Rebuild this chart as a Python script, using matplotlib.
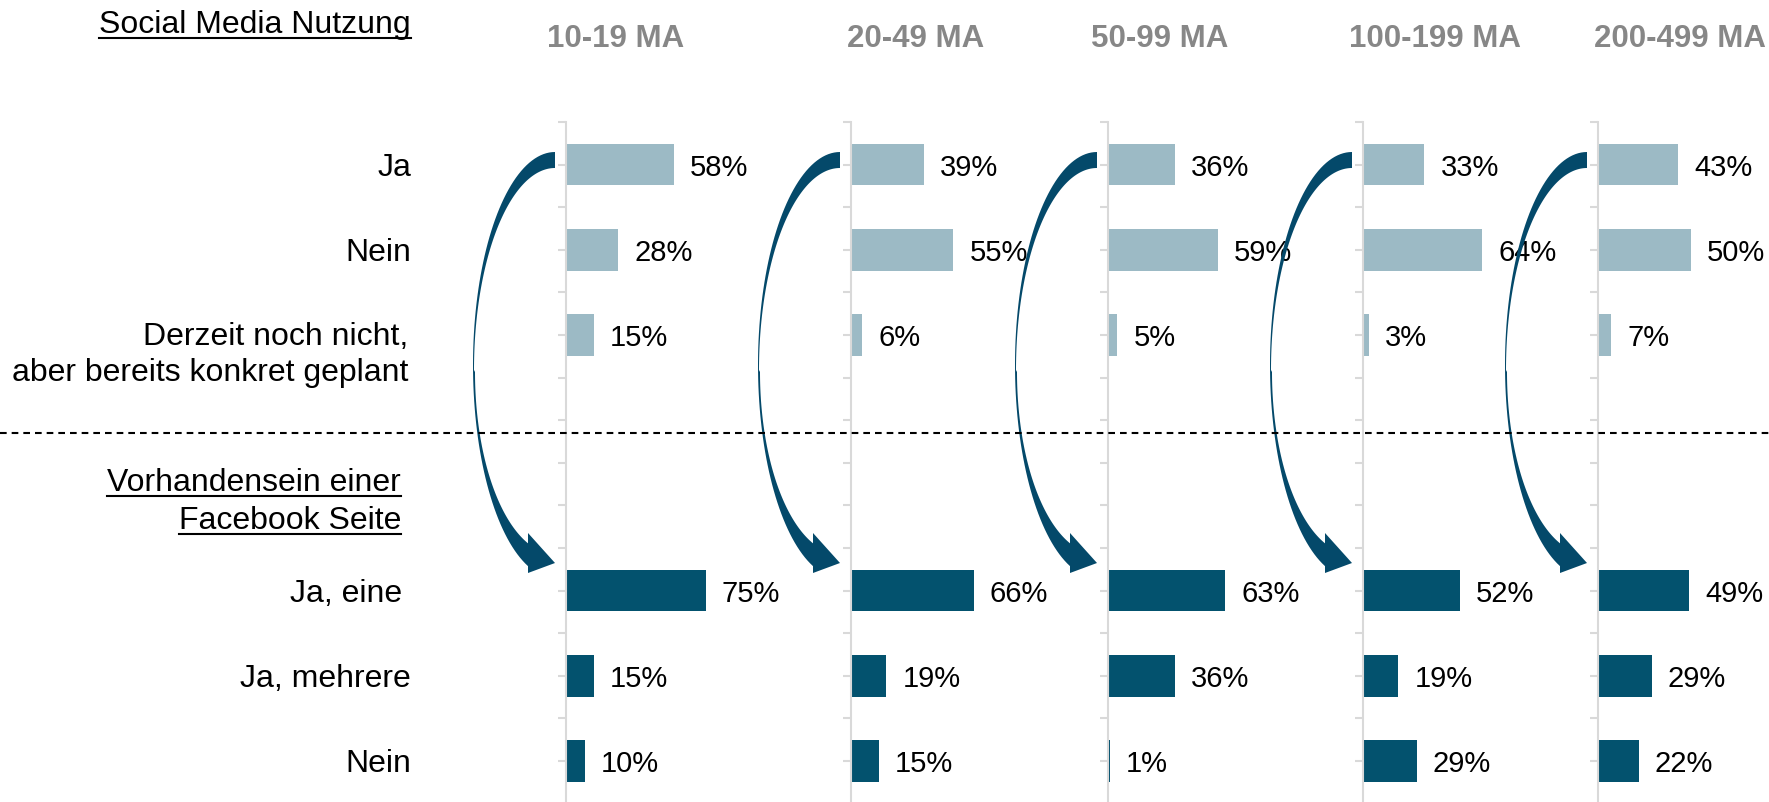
import numpy as np
import matplotlib
matplotlib.use("Agg")
import matplotlib.pyplot as plt
from matplotlib.patches import Polygon
from matplotlib.lines import Line2D
from matplotlib.colors import LinearSegmentedColormap
from matplotlib.transforms import blended_transform_factory

plt.rcParams['font.family'] = ['Liberation Sans', 'DejaVu Sans']

# data
groups = ['10-19 MA', '20-49 MA', '50-99 MA', '100-199 MA', '200-499 MA']
social_labels = ['Ja', 'Nein', 'Derzeit noch nicht,\naber bereits konkret geplant']
fb_labels = ['Ja, eine ', 'Ja, mehrere', 'Nein']
social_vals = [[58, 28, 15], [39, 55, 6], [36, 59, 5], [33, 64, 3], [43, 50, 7]]
fb_vals = [[75, 15, 10], [66, 19, 15], [63, 36, 1], [52, 19, 29], [49, 29, 22]]
social_title = 'Social Media Nutzung'
fb_title = ['Vorhandensein einer', 'Facebook Seite']

# layout (pixels of the 1769x802 canvas)
W, H = 1769, 802
px_pct = 1.86          # pixels per percent
px_row = 42.6          # pixels per category unit
top_px = 122
axis_x = [566, 851, 1108, 1363, 1598]
head_x = [616, 916, 1160, 1435, 1680]
social_pos = [1, 3, 5]
fb_pos = [11, 13, 15]
light = '#9cbac5'
dark = '#03526e'
grid = '#d9d9d9'
fs_lab, fs_pct, fs_head = 23, 21, 22.5
dy = 3 / px_row        # nudge text down so digits sit on the bar centre

fig = plt.figure(figsize=(W / 100, H / 100), dpi=100)


def arrow_shape():
    # curved arrow, pixel offsets from (axis, top) -> data units
    def arc(cx, cy, a, b, t0, t1, n=80):
        th = np.linspace(t0, t1, n)
        return np.column_stack([cx - a * np.sin(th), cy - b * np.cos(th)])
    outer = arc(-11, 243, 82, 213, 0, np.pi - np.arcsin(27 / 82))
    head = np.array([[-38, 451], [-11, 441], [-38, 411]])
    inner_lo = arc(-11, 250, 80, 182, np.pi - np.arcsin(27 / 80), np.pi / 2)
    inner_up = arc(-11, 248, 81, 202, np.pi / 2, 0)
    pts = np.vstack([outer, head, inner_lo, inner_up])
    return pts / np.array([px_pct, px_row])


arrow_cmap = LinearSegmentedColormap.from_list('arr', ['#023d56', '#05556f'])
arrow_pts = arrow_shape()

axes = []
for i, g in enumerate(groups):
    ax = fig.add_axes([axis_x[i] / W, 1 - (top_px + 16 * px_row) / H,
                       100 * px_pct / W, 16 * px_row / H])
    ax.patch.set_alpha(0)
    ax.barh(social_pos, social_vals[i], height=0.98, color=light, zorder=1)
    ax.barh(fb_pos, fb_vals[i], height=0.98, color=dark, zorder=1)
    for p, v in zip(social_pos + fb_pos, social_vals[i] + fb_vals[i]):
        ax.text(v + 16 / px_pct, p + dy, f'{v}%', va='center', ha='left',
                fontsize=fs_pct, color='black', clip_on=False)

    poly = Polygon(arrow_pts, closed=True, transform=ax.transData,
                   facecolor='#04496a', edgecolor='none', clip_on=False, zorder=4)
    ax.add_patch(poly)
    x0, y0 = arrow_pts.min(axis=0)
    x1, y1 = arrow_pts.max(axis=0)
    grad = np.linspace(0, 1, 256).reshape(-1, 1)
    im = ax.imshow(grad, extent=(x0, x1, y0, y1), origin='lower', aspect='auto',
                   cmap=arrow_cmap, zorder=5, interpolation='bilinear')
    im.set_clip_path(poly)
    im.set_clip_box(None)

    ax.set_xlim(0, 100)
    ax.set_ylim(16, 0)
    ax.set_yticks(np.arange(0, 17))
    ax.set_yticklabels([])
    ax.set_xticks([])
    ax.tick_params(axis='y', length=5.5, width=1.5, color=grid, direction='out')
    for s in ['top', 'right', 'bottom']:
        ax.spines[s].set_visible(False)
    ax.spines['left'].set_color(grid)
    ax.spines['left'].set_linewidth(1.5)
    ax.spines['left'].set_zorder(2)

    fig.text(head_x[i] / W, 1 - 47 / H, g, ha='center', va='baseline',
             fontsize=fs_head, fontweight='bold', color='#878787')
    axes.append(ax)

ax0 = axes[0]
tr = blended_transform_factory(fig.transFigure, ax0.transData)
lx = 411 / W
ax0.text(lx, 1 + dy, social_labels[0], transform=tr, ha='right', va='center', fontsize=fs_lab)
ax0.text(lx, 3 + dy, social_labels[1], transform=tr, ha='right', va='center', fontsize=fs_lab)
ax0.text(lx - 3 / W, 5.4 + dy, social_labels[2], transform=tr, ha='right', va='center',
         multialignment='right', fontsize=fs_lab, linespacing=1.25)
for p, lab in zip(fb_pos, fb_labels):
    ax0.text(lx, p + dy, lab, transform=tr, ha='right', va='center', fontsize=fs_lab)

# underlined headings
under = []
under.append(fig.text(lx, 1 - 33 / H, social_title, ha='right', va='baseline', fontsize=fs_lab))
under.append(ax0.text(401 / W, 8.4 + dy, fb_title[0], transform=tr, ha='right', va='center', fontsize=fs_lab))
under.append(ax0.text(401 / W, 9.3 + dy, fb_title[1], transform=tr, ha='right', va='center', fontsize=fs_lab))

# dashed separator
fig.add_artist(Line2D([0, 1], [1 - 433 / H] * 2, transform=fig.transFigure,
                      color='black', lw=1.5, linestyle=(0, (3.2, 2.4))))

fig.canvas.draw()
r = fig.canvas.get_renderer()
for t in under:
    bb = t.get_window_extent(r)
    y = (bb.y0 + 2) / H
    fig.add_artist(Line2D([bb.x0 / W, bb.x1 / W], [y, y], transform=fig.transFigure,
                          color='black', lw=1.5))

fig.savefig('out.png', dpi=100, facecolor='white')
